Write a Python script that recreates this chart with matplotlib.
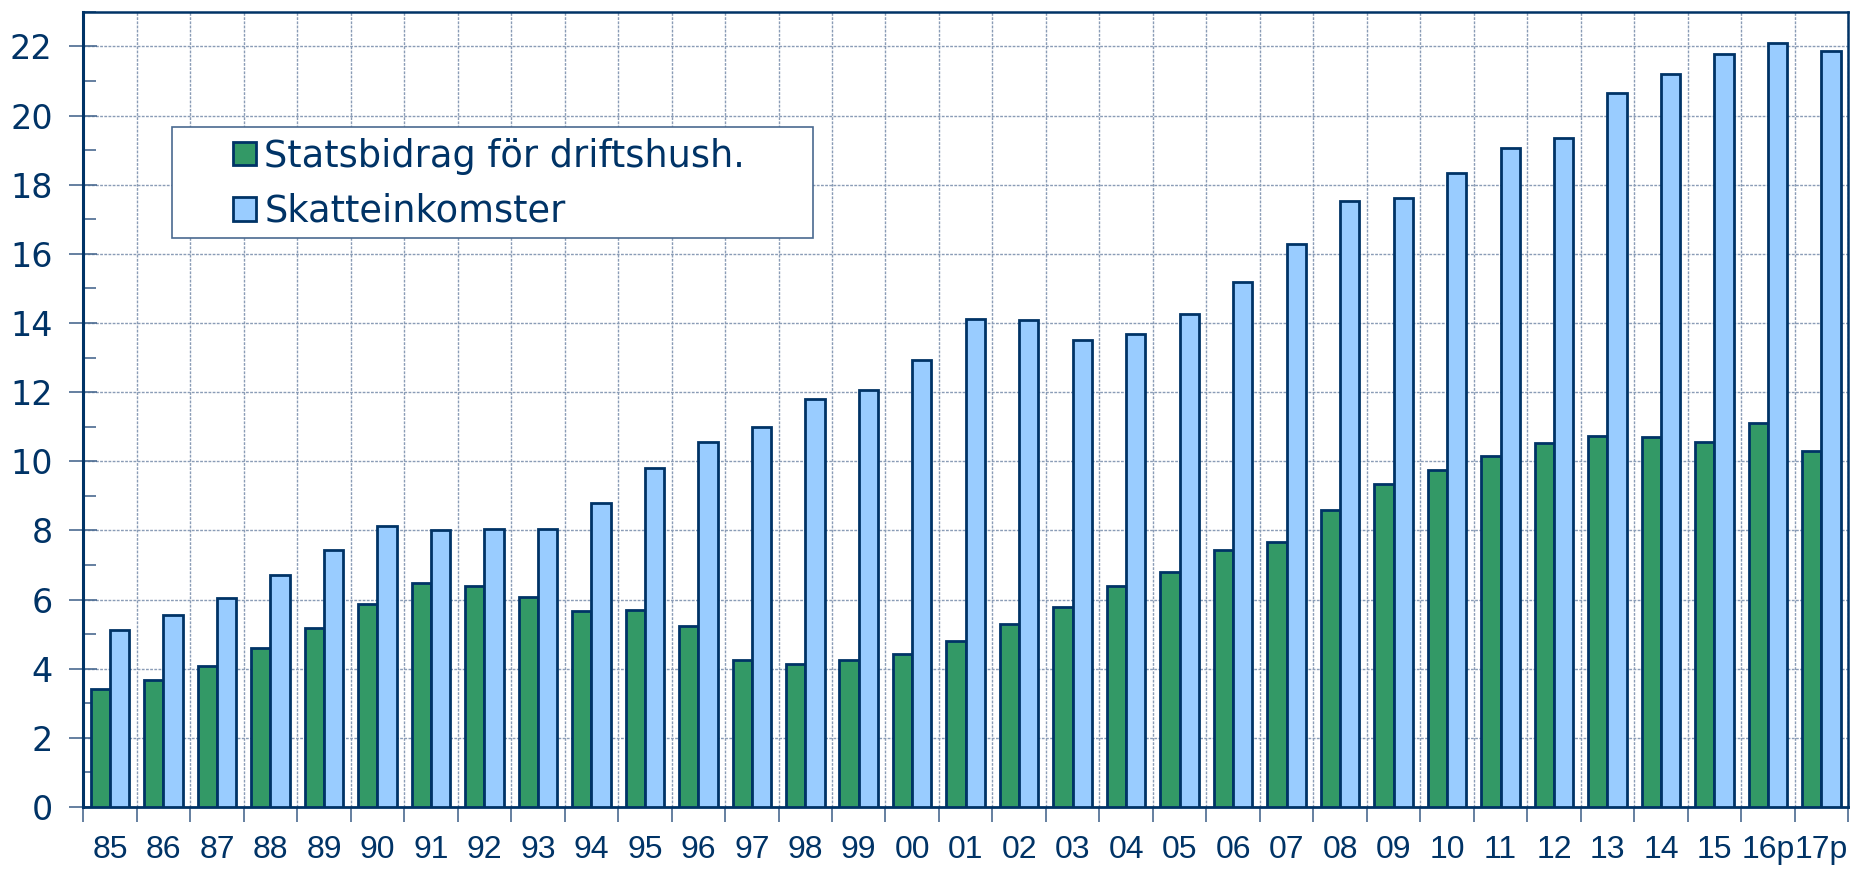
import numpy as np
import matplotlib.pyplot as plt
from matplotlib.patches import Rectangle
from matplotlib.ticker import MultipleLocator

years = ["85", "86", "87", "88", "89", "90", "91", "92", "93", "94", "95", "96",
         "97", "98", "99", "00", "01", "02", "03", "04", "05", "06", "07", "08",
         "09", "10", "11", "12", "13", "14", "15", "16p", "17p"]

statsbidrag = [3.41, 3.68, 4.09, 4.60, 5.18, 5.87, 6.48, 6.38, 6.07, 5.66, 5.70, 5.25,
               4.26, 4.13, 4.26, 4.43, 4.81, 5.29, 5.80, 6.38, 6.79, 7.44, 7.67, 8.59,
               9.35, 9.75, 10.16, 10.54, 10.74, 10.71, 10.57, 11.12, 10.30]

skatt = [5.12, 5.56, 6.04, 6.72, 7.44, 8.12, 8.01, 8.05, 8.05, 8.80, 9.82, 10.57,
         10.98, 11.80, 12.07, 12.93, 14.12, 14.09, 13.51, 13.68, 14.26, 15.18, 16.30, 17.53,
         17.63, 18.35, 19.06, 19.34, 20.64, 21.19, 21.79, 22.10, 21.88]

navy = "#003366"
green = "#339966"
lightblue = "#99ccff"
gridc = "#8a9cb6"
tickc = "#4a6a90"

fig = plt.figure(figsize=(18.5, 8.69), dpi=100)
ax = fig.add_axes([0.045, 0.0713, 0.954, 0.915])

x = np.arange(len(years))
w = 0.36
ax.bar(x - w / 2, statsbidrag, w, color=green, edgecolor=navy, linewidth=2.0,
       label="Statsbidrag för driftshush.", zorder=3)
ax.bar(x + w / 2, skatt, w, color=lightblue, edgecolor=navy, linewidth=2.0,
       label="Skatteinkomster", zorder=3)

ax.set_xlim(-0.5, len(years) - 0.5)
ax.set_ylim(0, 23)

# ticks and vertical grid sit on the category boundaries
ax.set_xticks(np.arange(len(years) + 1) - 0.5)
ax.set_xticklabels([])
ax.set_xticks(x, minor=True)
ax.set_xticklabels(years, minor=True, fontsize=23, color=navy,
                   family=["Liberation Sans", "DejaVu Sans"])
ax.tick_params(axis="x", which="major", direction="out", length=11, width=1.2,
               color=tickc)
ax.tick_params(axis="x", which="minor", length=0, pad=20)

ax.yaxis.set_major_locator(MultipleLocator(2))
ax.yaxis.set_minor_locator(MultipleLocator(1))
ax.tick_params(axis="y", which="major", direction="inout", length=20, width=1.2,
               color=tickc, labelsize=24, labelcolor=navy, pad=12)
ax.tick_params(axis="y", which="minor", direction="in", length=9, width=1.2,
               color=tickc)

ax.grid(True, which="major", color=gridc, linestyle=(0, (2, 1)), linewidth=1.0,
        zorder=0)
ax.set_axisbelow(True)

for side in ["left", "top", "right", "bottom"]:
    ax.spines[side].set_color(navy)
ax.spines["left"].set_linewidth(2.2)
ax.spines["top"].set_linewidth(1.8)
ax.spines["right"].set_linewidth(1.8)
ax.spines["bottom"].set_linewidth(2.0)

# legend box is wider than its contents, so draw the frame separately
frame = Rectangle((0.0504, 0.7157), 0.3632, 0.1396, transform=ax.transAxes,
                  facecolor="white", edgecolor="#4a6a90", linewidth=1.2, zorder=6)
ax.add_patch(frame)

leg = ax.legend(loc="upper left", bbox_to_anchor=(0.085, 0.842),
                prop={"family": "DejaVu Sans", "size": 26.5},
                frameon=False, borderpad=0, labelspacing=0.5,
                handlelength=0.625, handleheight=0.6, handletextpad=0.22,
                borderaxespad=0)
leg.set_zorder(7)
for t in leg.get_texts():
    t.set_color(navy)

fig.savefig("out.png", dpi=100)
